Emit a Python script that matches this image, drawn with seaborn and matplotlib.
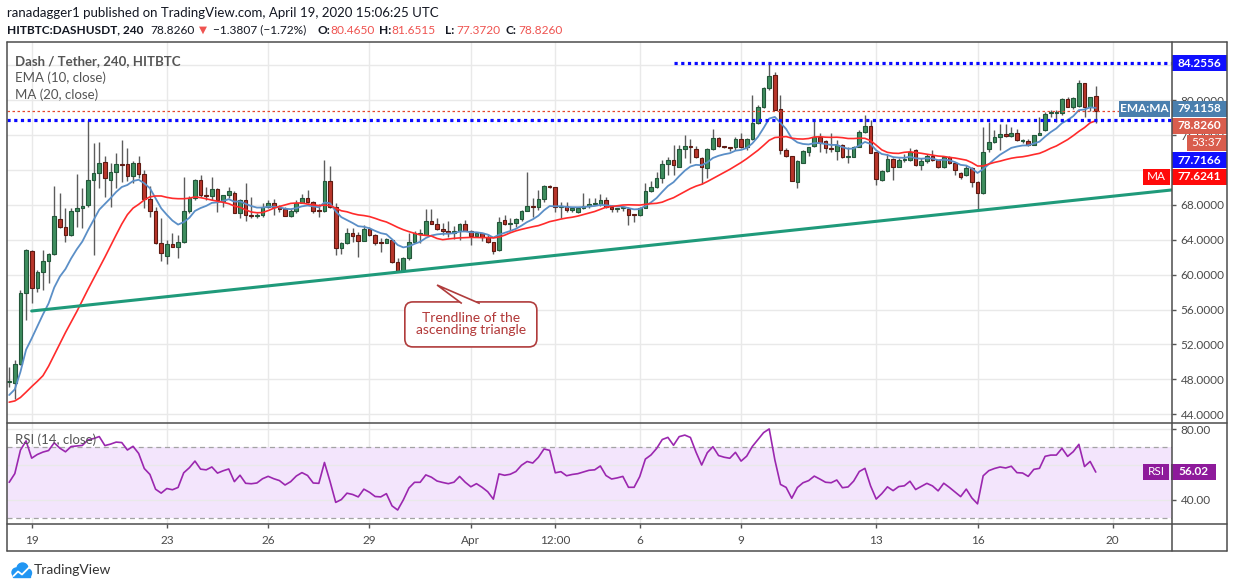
import numpy as np
import pandas as pd
import matplotlib
matplotlib.use("Agg")
import matplotlib.pyplot as plt
import seaborn as sns
from matplotlib.patches import Rectangle, FancyBboxPatch, Polygon, Circle
from matplotlib.lines import Line2D
from matplotlib.transforms import IdentityTransform

# ---------------- data (4h candles, DASH/USDT) ----------------
start_time = "2020-03-18 08:00"
opens = [47.70, 47.60, 49.80, 57.87, 62.70, 58.52, 60.35, 61.58, 62.38, 66.36,
         65.44, 64.56, 67.30, 67.60, 68.00, 70.87, 71.63, 72.90, 70.87, 71.75,
         72.75, 72.70, 71.36, 72.78, 71.56, 68.65, 67.35, 63.60, 62.20, 63.50,
         63.20, 63.70, 67.30, 68.76, 70.87, 69.15, 69.00, 69.80, 68.45, 69.15,
         69.40, 67.10, 68.57, 66.85, 66.75, 66.90, 67.73, 68.20, 67.80, 67.50,
         66.78, 67.30, 68.20, 68.76, 68.38, 67.35, 67.30, 70.75, 67.80, 63.03,
         63.60, 64.75, 64.52, 63.90, 65.20, 64.56, 63.68, 63.68, 63.98, 61.50,
         60.47, 61.88, 63.80, 64.67, 64.56, 66.16, 65.80, 65.28, 64.98, 64.80,
         65.00, 65.80, 65.06, 64.45, 64.75, 64.37, 63.80, 62.84, 66.28, 65.82,
         65.97, 66.36, 67.30, 67.90, 67.75, 68.65, 70.18, 70.05, 67.73, 67.90,
         67.43, 67.16, 67.70, 67.90, 68.10, 68.15, 68.60, 67.80, 67.50, 67.60,
         67.58, 66.95, 66.85, 67.70, 69.55, 70.10, 71.06, 72.70, 73.16, 72.40,
         74.39, 74.77, 74.43, 73.40, 72.20, 74.39, 75.65, 74.77, 74.60, 74.60,
         75.53, 74.70, 75.53, 77.45, 79.20, 81.38, 82.90, 78.97, 74.30, 73.60,
         70.68, 72.86, 74.10, 74.77, 75.76, 75.38, 74.50, 74.24, 74.90, 73.50,
         73.55, 74.60, 76.41, 77.06, 74.12, 70.87, 71.94, 73.24, 72.40, 73.16,
         73.16, 74.30, 72.55, 73.08, 73.60, 73.16, 72.30, 73.47, 72.78, 71.70,
         71.44, 72.20, 70.60, 69.41, 74.39, 75.27, 75.76, 76.10, 75.95, 76.30,
         75.30, 75.35, 74.90, 76.03, 76.60, 78.60, 78.60, 78.50, 80.12, 79.28,
         79.30, 81.96, 79.28, 80.465]
highs = [49.45, 50.20, 58.25, 62.95, 62.84, 60.50, 62.84, 62.45, 70.18, 69.34,
         67.60, 67.60, 71.56, 69.90, 77.72, 75.07, 75.27, 73.62, 72.78, 74.00,
         75.46, 74.50, 73.00, 73.66, 72.00, 70.18, 67.80, 66.47, 63.98, 64.75,
         64.50, 71.25, 69.00, 70.95, 71.44, 70.05, 71.25, 69.90, 69.20, 70.03,
         69.64, 68.73, 70.49, 68.96, 67.10, 68.19, 68.57, 68.65, 68.00, 67.80,
         67.50, 68.57, 69.22, 69.72, 68.50, 68.11, 73.16, 72.47, 68.20, 63.80,
         65.32, 65.32, 64.94, 65.70, 65.50, 64.70, 64.18, 64.25, 63.98, 61.90,
         62.07, 64.75, 65.06, 65.20, 67.50, 67.50, 66.47, 65.90, 66.20, 65.60,
         65.90, 66.28, 65.13, 64.94, 64.83, 64.70, 63.80, 66.66, 66.85, 66.47,
         66.47, 67.40, 71.82, 68.76, 69.72, 70.30, 70.30, 70.10, 68.38, 68.38,
         67.75, 67.75, 69.34, 68.76, 68.76, 69.26, 68.90, 68.00, 67.65, 67.80,
         67.73, 66.95, 67.80, 70.50, 70.80, 71.82, 73.16, 73.54, 74.90, 74.90,
         76.03, 75.53, 74.80, 73.47, 74.50, 76.68, 75.76, 74.77, 74.62, 75.76,
         76.30, 75.65, 80.60, 79.47, 81.55, 84.2556, 83.20, 80.61, 74.50, 73.65,
         73.16, 74.30, 74.70, 77.75, 76.20, 75.46, 76.30, 75.46, 74.95, 74.60,
         74.75, 76.60, 78.30, 77.75, 74.12, 72.00, 73.85, 73.35, 73.35, 73.80,
         74.50, 74.40, 73.35, 73.90, 74.30, 73.20, 73.60, 73.60, 72.90, 71.80,
         72.60, 72.40, 70.70, 76.99, 77.56, 76.60, 77.30, 77.30, 77.00, 76.70,
         75.60, 75.60, 76.03, 78.13, 78.71, 78.90, 78.90, 80.24, 80.43, 80.43,
         82.34, 81.96, 80.43, 81.6515]
lows = [47.16, 45.70, 49.70, 54.80, 56.70, 58.06, 58.25, 59.00, 62.30, 65.40,
        63.70, 64.40, 65.50, 65.40, 67.80, 62.26, 69.99, 68.88, 67.73, 69.90,
        70.68, 70.80, 70.50, 71.06, 67.60, 66.66, 63.50, 61.60, 61.23, 63.14,
        61.90, 63.60, 67.05, 68.60, 68.95, 68.57, 68.57, 67.20, 67.80, 68.76,
        67.04, 66.47, 66.20, 66.47, 66.50, 66.59, 67.60, 66.85, 67.20, 66.70,
        66.60, 67.05, 68.20, 68.19, 67.04, 66.66, 67.20, 67.70, 62.26, 62.38,
        63.55, 63.80, 62.07, 63.90, 64.45, 63.40, 62.65, 63.60, 61.38, 60.35,
        60.35, 61.70, 63.60, 63.60, 64.50, 65.80, 65.13, 64.52, 64.30, 64.06,
        63.98, 64.98, 63.41, 64.37, 63.90, 63.68, 62.38, 62.70, 65.70, 65.13,
        65.50, 66.20, 67.30, 66.66, 67.43, 68.38, 69.90, 67.24, 66.47, 67.20,
        67.20, 67.05, 67.50, 67.60, 68.00, 67.90, 67.70, 67.20, 67.20, 67.30,
        65.74, 66.10, 66.70, 67.60, 69.50, 70.00, 70.49, 71.44, 71.44, 72.40,
        73.35, 72.86, 73.40, 70.37, 71.06, 74.30, 74.70, 74.55, 74.20, 74.30,
        74.50, 74.30, 75.40, 77.30, 79.10, 81.20, 78.90, 73.90, 73.50, 70.70,
        69.90, 72.80, 73.60, 74.60, 74.10, 74.00, 74.10, 73.16, 73.40, 72.80,
        73.50, 74.60, 76.20, 73.93, 70.30, 70.70, 71.80, 70.87, 72.30, 72.90,
        73.10, 72.50, 72.00, 72.85, 73.00, 72.20, 72.20, 72.70, 71.44, 71.00,
        71.30, 70.03, 67.43, 69.30, 74.12, 75.07, 74.30, 75.84, 75.85, 75.30,
        75.07, 74.80, 74.85, 76.00, 76.50, 78.13, 77.56, 78.30, 79.20, 78.97,
        79.20, 78.13, 78.80, 77.372]
closes = [47.75, 49.80, 57.87, 62.84, 58.52, 60.35, 61.58, 62.38, 66.74, 65.44,
          64.56, 67.30, 67.60, 67.90, 70.87, 71.63, 72.78, 71.06, 71.75, 72.70,
          72.62, 71.36, 72.78, 71.56, 68.65, 67.35, 63.60, 62.45, 63.53, 63.20,
          63.70, 67.30, 68.76, 70.87, 69.15, 69.00, 69.80, 68.57, 69.15, 69.60,
          67.10, 68.57, 66.85, 66.75, 66.90, 67.73, 68.20, 67.80, 67.50, 66.78,
          67.30, 68.20, 68.76, 68.38, 67.35, 67.30, 70.75, 67.80, 63.10, 63.60,
          64.75, 64.45, 63.90, 65.20, 64.56, 63.68, 63.60, 64.06, 61.50, 60.47,
          61.88, 63.80, 64.83, 64.83, 66.16, 65.80, 65.20, 64.98, 64.80, 65.00,
          65.80, 65.06, 64.45, 64.83, 64.37, 63.80, 62.76, 66.00, 65.82, 65.97,
          66.36, 67.30, 67.90, 67.75, 68.65, 70.18, 70.05, 67.73, 67.90, 67.43,
          67.60, 67.70, 67.90, 68.10, 68.15, 68.57, 67.80, 67.50, 67.60, 67.73,
          66.85, 66.85, 67.70, 69.55, 70.10, 71.06, 72.70, 73.16, 72.59, 74.39,
          74.77, 74.60, 73.47, 72.32, 74.39, 75.65, 74.77, 74.60, 74.50, 75.53,
          74.70, 75.53, 77.45, 79.20, 81.38, 82.80, 78.95, 74.30, 73.60, 70.80,
          73.09, 74.20, 74.70, 75.76, 75.15, 74.50, 74.40, 74.92, 73.47, 73.60,
          74.60, 76.41, 77.06, 74.00, 70.94, 71.94, 73.24, 72.40, 73.16, 73.30,
          74.12, 72.55, 73.08, 73.60, 73.16, 72.30, 73.47, 72.78, 72.00, 71.17,
          72.20, 70.60, 69.41, 74.12, 75.27, 75.76, 76.10, 75.95, 76.30, 75.40,
          75.35, 74.90, 76.03, 76.20, 78.44, 78.70, 78.70, 80.12, 79.28, 80.24,
          81.96, 79.28, 80.35, 78.826]

# closes of the 19 candles before the visible window (read back from the MA line's slope)
ma_prior_closes = [47.0, 49.9, 50.6, 45.7, 48.4, 48.6, 40.6, 41.1, 39.8, 38.6,
                   43.3, 43.8, 42.3, 45.2, 47.0, 47.8, 46.9, 46.0, 47.3]
ema_start = 46.2           # EMA(10) value at the first visible candle
rsi_start_avg_gain = 0.72  # Wilder averages at the first visible candle (RSI ~ 50)
rsi_start_avg_loss = 0.72

# values printed on the price / RSI scales of the reference
resistance_level = 84.2556
support_level = 77.7166
last_price = 78.8260
ema_label_value = 79.1158
ma_label_value = 77.6241
rsi_label_value = 56.02
countdown = "53:37"
change_text = "−1.3807 (−1.72%)"

resistance_start = "2020-04-07 00:00"
trend_days = [0.0, 33.74]          # days since 19 Mar 00:00
trend_prices = [55.84, 69.72]
note_tip = (12.0, 58.82)           # (days, price) the callout points at
note_center = (13.0, 54.3)

tick_times = ["2020-03-19", "2020-03-23", "2020-03-26", "2020-03-29", "2020-04-01",
              "2020-04-03 12:00", "2020-04-06", "2020-04-09", "2020-04-13",
              "2020-04-16", "2020-04-20"]
tick_labels = ["19", "23", "26", "29", "Apr", "12:00", "6", "9", "13", "16", "20"]
price_ticks = list(range(44, 85, 4))
price_ticks_hidden = [72, 84]      # fully covered by scale labels in the reference
rsi_ticks = [40, 60, 80]
rsi_ticks_hidden = [60]

# ---------------- derived series ----------------
t0 = pd.Timestamp("2020-03-19")
ts = pd.date_range(start_time, periods=len(closes), freq="4h")
xd = ((ts - t0) / pd.Timedelta("1D")).values.astype(float)
o = np.array(opens); h = np.array(highs); l = np.array(lows); c = np.array(closes)

ema = pd.Series([ema_start] + closes[1:]).ewm(span=10, adjust=False).mean().values
ma = pd.Series(ma_prior_closes + closes).rolling(20).mean().values[len(ma_prior_closes):]
delta = pd.Series(closes).diff()
gain = delta.clip(lower=0); loss = (-delta).clip(lower=0)
gain.iloc[0] = rsi_start_avg_gain; loss.iloc[0] = rsi_start_avg_loss
ag = gain.ewm(alpha=1/14, adjust=False).mean(); al = loss.ewm(alpha=1/14, adjust=False).mean()
rsi = (100 * ag / (ag + al)).values
df = pd.DataFrame({"x": xd, "ema": ema, "ma": ma, "rsi": rsi})

def tday(s):
    return (pd.Timestamp(s) - t0) / pd.Timedelta("1D")

# ---------------- figure ----------------
W, H, DPI = 1234, 588, 100
sns.set_theme(style="white")
plt.rcParams["font.family"] = ["Lato", "DejaVu Sans"]
fig = plt.figure(figsize=(W / DPI, H / DPI), dpi=DPI)
fig.patch.set_facecolor("white")
ID = IdentityTransform()

L_PX, R_PX, T_PX, M_PX, B_PX = 6.7, 1171.5, 42.3, 422.5, 524.3
ax = fig.add_axes([L_PX / W, 1 - M_PX / H, (R_PX - L_PX) / W, (M_PX - T_PX) / H])
axr = fig.add_axes([L_PX / W, 1 - B_PX / H, (R_PX - L_PX) / W, (B_PX - M_PX) / H], sharex=ax)

xlim = (-0.740, 33.742)
ax.set_xlim(*xlim)
ax.set_ylim(43.05, 86.66)
axr.set_ylim(26.25, 83.85)

grid_c = "#e9e9e9"
xt = [tday(s) for s in tick_times]
for a in (ax, axr):
    a.set_facecolor("white")
    for x in xt:
        a.axvline(x, color=grid_c, lw=1, zorder=0)
    for sp in a.spines.values():
        sp.set_visible(False)
for y in price_ticks:
    ax.axhline(y, color=grid_c, lw=1, zorder=0)
for y in rsi_ticks:
    axr.axhline(y, color=grid_c, lw=1, zorder=0.5)

# candles
up = c >= o
wid = 0.108
ax.vlines(xd, l, h, color="#5c5c5c", lw=1.0, zorder=2)
bh = np.maximum(np.abs(c - o), 0.12)
bb = np.minimum(o, c)
ax.bar(xd[up], bh[up], bottom=bb[up], width=wid, color="#3e8e5e",
       edgecolor="#23573a", linewidth=0.8, zorder=3)
ax.bar(xd[~up], bh[~up], bottom=bb[~up], width=wid, color="#b9362b",
       edgecolor="#5e1a12", linewidth=0.8, zorder=3)

# moving averages
sns.lineplot(data=df, x="x", y="ema", ax=ax, color="#5b8fc7", lw=1.3, zorder=4)
sns.lineplot(data=df, x="x", y="ma", ax=ax, color="#ff2b2b", lw=1.2, zorder=4)

# horizontal lines
ax.axhline(last_price, color="#e5482f", lw=0.9, ls=(0, (2, 2)), zorder=4)
ax.plot([xlim[0], xlim[1]], [support_level] * 2, color="#0a0aff", lw=2.3,
        ls=(0, (1, 1.1)), zorder=5)
ax.plot([tday(resistance_start), xlim[1]], [resistance_level] * 2, color="#0a0aff",
        lw=2.3, ls=(0, (1, 1.1)), zorder=5)
# ascending trendline
ax.plot(trend_days, trend_prices, color="#1f9a7a", lw=2.2, zorder=6,
        solid_capstyle="round")

ax.set_xlabel(""); ax.set_ylabel("")
ax.yaxis.tick_right()
ax.set_yticks(price_ticks)
ax.set_yticklabels(["" if v in price_ticks_hidden else f"{v:.4f}" for v in price_ticks])
ax.tick_params(axis="y", direction="out", length=3, width=1, color="#555555",
               labelsize=8.5, labelcolor="#4a4a4a", pad=3.5, left=False, right=True)
ax.tick_params(axis="x", length=0, labelbottom=False)

# RSI panel
axr.axhspan(30, 70, color="#f3e5fc", zorder=0.2, lw=0)
axr.axhline(70, color="#a3a3a3", lw=0.9, ls=(0, (4, 3)), zorder=1)
axr.axhline(30, color="#a3a3a3", lw=0.9, ls=(0, (4, 3)), zorder=1)
sns.lineplot(data=df, x="x", y="rsi", ax=axr, color="#9b27af", lw=1.2, zorder=3)
axr.set_xlabel(""); axr.set_ylabel("")
axr.yaxis.tick_right()
axr.set_yticks(rsi_ticks)
axr.set_yticklabels(["" if v in rsi_ticks_hidden else f"{v:.2f}" for v in rsi_ticks])
axr.tick_params(axis="y", direction="out", length=3, width=1, color="#555555",
                labelsize=8.5, labelcolor="#4a4a4a", pad=3.5, left=False, right=True)
axr.set_xticks(xt)
axr.set_xticklabels(tick_labels)
axr.tick_params(axis="x", direction="out", length=3, width=1, color="#555555",
                labelsize=8.5, labelcolor="#4a4a4a", pad=5, bottom=True)

# ---------------- callout ----------------
tipx, tipy = ax.transData.transform(note_tip)
cx, cy = ax.transData.transform(note_center)
bw, bhh, r = 132, 45, 8
box = FancyBboxPatch((cx - bw / 2 + r, cy - bhh / 2 + r), bw - 2 * r, bhh - 2 * r,
                     boxstyle=f"round,pad={r}", transform=ID, facecolor="white",
                     edgecolor="#b03c3c", lw=1.2, zorder=30)
fig.add_artist(box)
topy = cy + bhh / 2
ptr = Polygon([(cx - 9, topy - 1.6), (tipx, tipy), (cx + 9, topy - 1.6)], closed=False,
              transform=ID, facecolor="white", edgecolor="#b03c3c", lw=1.2, zorder=31)
fig.add_artist(ptr)
fig.text(cx, cy, "Trendline of the\nascending triangle", transform=ID, ha="center",
         va="center", fontsize=10, color="#b23838", linespacing=1.0, zorder=32)

# ---------------- frame lines ----------------
fc = "#4d4d4d"
def hline(y, x0, x1):
    fig.add_artist(Line2D([x0, x1], [H - y, H - y], transform=ID, color=fc, lw=1.1, zorder=40))
def vline(x, y0, y1):
    fig.add_artist(Line2D([x, x], [H - y0, H - y1], transform=ID, color=fc, lw=1.1, zorder=40))
RX = 1227
hline(T_PX, L_PX, RX); hline(M_PX, L_PX, RX); hline(B_PX, L_PX, RX); hline(551, L_PX, RX)
vline(L_PX, T_PX, 551); vline(R_PX, T_PX, 551); vline(RX, T_PX, 551)

# ---------------- price-scale label boxes ----------------
def box_label(x0, x1, yc, hh, color, text, fs=8.5, bold=True):
    fig.add_artist(Rectangle((x0, H - yc - hh / 2), x1 - x0, hh, transform=ID,
                             facecolor=color, edgecolor="none", zorder=35))
    fig.text((x0 + x1) / 2, H - yc, text, transform=ID, ha="center", va="center",
             color="white", fontsize=fs, fontweight="bold" if bold else "normal", zorder=36)

def price_y(p):
    return H - ax.transData.transform((0, p))[1]

box_label(1172, 1227, price_y(resistance_level), 16, "#1010ff", f"{resistance_level:.4f}")
box_label(1119, 1170, 108.7, 16, "#4a7fae", "EMA:MA")
box_label(1172, 1227, 108.7, 16, "#4a7fae", f"{ema_label_value:.4f}")
box_label(1172, 1227, 125.5, 16, "#d95d4d", f"{last_price:.4f}")
box_label(1187, 1227, 142.5, 16, "#d95d4d", countdown, bold=False)
box_label(1172, 1227, 160.0, 16, "#1010ff", f"{support_level:.4f}")
box_label(1143, 1170, 177.0, 16, "#ff0a0a", "MA", bold=False)
box_label(1172, 1227, 177.0, 16, "#ff0a0a", f"{ma_label_value:.4f}")
ry = H - axr.transData.transform((0, rsi_label_value))[1]
box_label(1143, 1169, ry, 16, "#8e1a9b", "RSI", bold=False)
box_label(1171, 1216, ry, 16, "#8e1a9b", f"{rsi_label_value:.2f}")

# ---------------- texts ----------------
tc = "#131722"
fig.text(7, H - 13, "ranadagger1 published on TradingView.com, April 19, 2020 15:06:25 UTC",
         transform=ID, fontsize=9.5, color=tc, va="center")
red = "#ef5350"
pieces = [(7, "HITBTC:DASHUSDT, 240", tc, "bold"),
          (150, f"{last_price:.4f}", tc, "normal"),
          (199, "▼", red, "normal"),
          (213, change_text, tc, "normal"),
          (317, "O:", tc, "bold"), (330, f"{opens[-1]:.4f}", red, "normal"),
          (379, "H:", tc, "bold"), (391, f"{highs[-1]:.4f}", red, "normal"),
          (445, "L:", tc, "bold"), (456, f"{lows[-1]:.4f}", red, "normal"),
          (506, "C:", tc, "bold"), (518, f"{closes[-1]:.4f}", red, "normal")]
for x, s, col, wt in pieces:
    fig.text(x, H - 30, s, transform=ID, fontsize=8.6 if s != "▼" else 7.5, color=col,
             fontweight=wt, va="center", family=["Lato", "DejaVu Sans"])

gc = "#555555"
fig.text(15, H - 61, "Dash / Tether, 240, HITBTC", transform=ID, fontsize=9.5, color=gc,
         fontweight="bold", va="center")
fig.text(15, H - 78, "EMA (10, close)", transform=ID, fontsize=9.5, color=gc, va="center")
fig.text(15, H - 95, "MA (20, close)", transform=ID, fontsize=9.5, color=gc, va="center")
fig.text(15, H - 440, "RSI (14, close)", transform=ID, fontsize=9.5, color=gc, va="center")

# TradingView logo
blue = "#2196f3"
for (x, y, rr) in [(16.5, 572.5, 4.5), (22.5, 568.5, 5.5), (27.5, 573, 4.0)]:
    fig.add_artist(Circle((x, H - y), rr, transform=ID, color=blue, zorder=40))
fig.add_artist(Rectangle((13, H - 577), 17, 5, transform=ID, color=blue, zorder=40))
fig.add_artist(Line2D([13.5, 18, 22, 29.5], [H - 576, H - 571.5, H - 574.5, H - 567],
                      transform=ID, color="white", lw=1.3, zorder=41))
fig.text(34, H - 570, "TradingView", transform=ID, fontsize=10, color="#333333", va="center")

fig.savefig("out.png", dpi=DPI, facecolor="white")
